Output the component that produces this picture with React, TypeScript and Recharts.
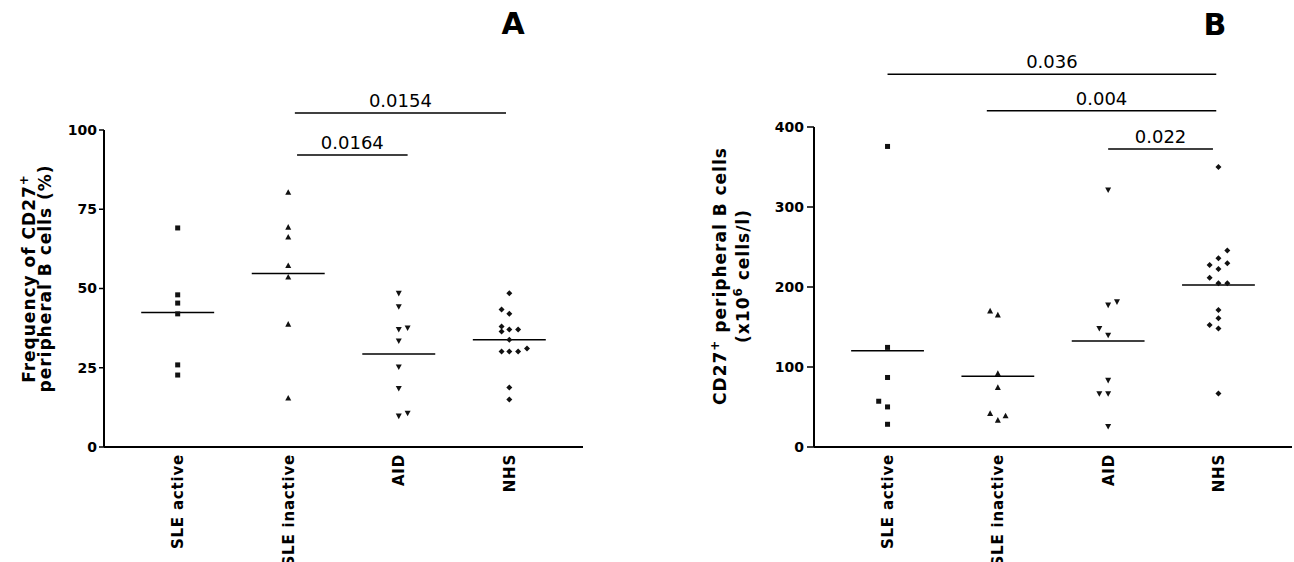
import React from 'react'
import { ScatterChart, Scatter, XAxis, YAxis, ReferenceLine } from 'recharts'

const FONT = '"DejaVu Sans", Verdana, sans-serif'

const groups = ['SLE active', 'SLE inactive', 'AID', 'NHS']

// panel A, frequency of CD27+ B cells (%): [x jitter, value]
const freqSleActive = [[0, 69.1], [0, 48.0], [0, 45.4], [0, 42.0], [0, 25.9], [0, 22.7]]
const freqSleInactive = [[0, 80.3], [0, 69.3], [0, 66.2], [0, 57.2], [0, 53.6], [0, 38.7], [0, 15.4]]
const freqAid = [[0, 48.5], [0, 44.3], [0.08, 37.6], [0, 37.1], [0, 33.5], [0, 25.3], [0, 18.5], [0.08, 10.7], [0, 9.8]]
const freqNhs = [
    [0, 48.5], [-0.07, 43.4], [0, 42.0], [-0.07, 38.0], [-0.07, 36.4], [0, 37.1], [0.08, 37.1],
    [0, 33.8], [-0.07, 30.1], [0, 30.1], [0.08, 30.1], [0.16, 31.1], [0, 18.8], [0, 15.0],
]
const freqMeans = [42.4, 54.7, 29.3, 33.8]
const freqTicks = [0, 25, 50, 75, 100]
const freqComparisons = [
    { from: 2.06, to: 3.97, level: 105.4, p: '0.0154' },
    { from: 2.08, to: 3.08, level: 92.1, p: '0.0164' },
]

// panel B, CD27+ B cells (x10^6 cells/l)
const countSleActive = [[0, 375.7], [0, 124.5], [0, 86.9], [-0.08, 57.2], [0, 50.1], [0, 28.4]]
const countSleInactive = [[-0.07, 170], [0, 165], [0, 91.9], [0, 74.4], [-0.07, 41.8], [0, 33.4], [0.07, 38.8]]
const countAid = [[0, 321.5], [0.08, 181.6], [0, 177.5], [-0.08, 148.3], [0, 139.9], [0, 83.5], [-0.08, 66.8], [0, 66.8], [0, 25.9]]
const countNhs = [
    [0, 349.9], [0.08, 245.5], [0, 235.9], [0.08, 229.6], [-0.08, 227.6], [0, 222.5], [-0.08, 211.7],
    [0, 204.6], [0.08, 204.6], [0, 171.2], [0, 160.8], [-0.08, 152.4], [0, 148.2], [0, 66.8],
]
const countMeans = [120.2, 88.5, 132.4, 202.5]
const countTicks = [0, 100, 200, 300, 400]
const countComparisons = [
    { from: 1.0, to: 3.98, level: 465.9, p: '0.036' },
    { from: 1.9, to: 3.98, level: 420.4, p: '0.004' },
    { from: 3.0, to: 3.95, level: 372.4, p: '0.022' },
]

const toPoints = (group: number[][], idx: number) => group.map(([dx, v]) => ({ x: idx + 1 + dx, y: v }))

const markers = [
    ({ cx, cy }: any) => <rect x={cx - 2.5} y={cy - 2.5} width={5} height={5} fill="#111" />,
    ({ cx, cy }: any) => <polygon points={`${cx},${cy - 3.2} ${cx + 3},${cy + 2.4} ${cx - 3},${cy + 2.4}`} fill="#111" />,
    ({ cx, cy }: any) => <polygon points={`${cx - 3},${cy - 2.4} ${cx + 3},${cy - 2.4} ${cx},${cy + 3.2}`} fill="#111" />,
    ({ cx, cy }: any) => <polygon points={`${cx},${cy - 3} ${cx + 3},${cy} ${cx},${cy + 3} ${cx - 3},${cy}`} fill="#111" />,
]

const GroupTick = ({ x, y, payload }: any) => (
    <text
        transform={`translate(${x},${y}) rotate(-90)`}
        textAnchor="end"
        dy="0.36em"
        fontFamily={FONT}
        fontWeight="bold"
        fontSize={15}
        letterSpacing={0.8}
        fill="#000"
    >
        {groups[Math.round(payload.value) - 1]}
    </text>
)

const labelStyle = { fontFamily: FONT, fontWeight: 'bold' as const, fontSize: 17, letterSpacing: 1, fill: '#000' }

const FreqLabel = ({ viewBox }: any) => {
    const cy = viewBox.y + viewBox.height / 2 - 10
    return (
        <g>
            <text transform={`translate(${viewBox.x - 15},${cy}) rotate(-90)`} textAnchor="middle" dy="0.35em" {...labelStyle}>
                Frequency of CD27<tspan dy={-7} fontSize={12}>+</tspan>
            </text>
            <text transform={`translate(${viewBox.x + 1},${cy}) rotate(-90)`} textAnchor="middle" dy="0.35em" {...labelStyle}>
                peripheral B cells (%)
            </text>
        </g>
    )
}

const CountLabel = ({ viewBox }: any) => {
    const cy = viewBox.y + viewBox.height / 2 - 11
    return (
        <g>
            <text transform={`translate(${viewBox.x - 34},${cy}) rotate(-90)`} textAnchor="middle" dy="0.35em" {...labelStyle}>
                CD27<tspan dy={-7} fontSize={12}>+</tspan><tspan dy={7}> peripheral B cells</tspan>
            </text>
            <text transform={`translate(${viewBox.x - 11},${cy}) rotate(-90)`} textAnchor="middle" dy="0.35em" {...labelStyle}>
                (x10<tspan dy={-7} fontSize={12}>6</tspan><tspan dy={7}> cells/l)</tspan>
            </text>
        </g>
    )
}

interface PanelProps {
    sets: number[][][];
    means: number[];
    ticks: number[];
    comparisons: { from: number; to: number; level: number; p: string }[];
    width: number;
    margin: { top: number; right: number; bottom: number; left: number };
    tickSize: number;
    tickMargin: number;
    yLabel: (props: any) => React.ReactElement;
}

function Panel({ sets, means, ticks, comparisons, width, margin, tickSize, tickMargin, yLabel }: PanelProps) {
    return (
        <ScatterChart width={width} height={562} margin={margin}>
            <XAxis
                type="number"
                dataKey="x"
                domain={[1 / 3, 14 / 3]}
                ticks={[1, 2, 3, 4]}
                tickLine={false}
                tickSize={0}
                tickMargin={7}
                height={110}
                axisLine={{ stroke: '#000', strokeWidth: 2 }}
                tick={<GroupTick />}
                interval={0}
            />
            <YAxis
                type="number"
                dataKey="y"
                domain={[ticks[0], ticks[ticks.length - 1]]}
                ticks={ticks}
                width={60}
                tickSize={tickSize}
                tickMargin={tickMargin}
                axisLine={{ stroke: '#000', strokeWidth: 2 }}
                tickLine={{ stroke: '#000', strokeWidth: 1.5 }}
                tick={{ fontFamily: FONT, fontWeight: 'bold', fontSize: 14, fill: '#000' }}
                label={yLabel}
            />
            {sets.map((set, i) => (
                <Scatter key={groups[i]} data={toPoints(set, i)} shape={markers[i]} isAnimationActive={false} />
            ))}
            {means.map((m, i) => (
                <ReferenceLine
                    key={`mean-${i}`}
                    segment={[{ x: i + 1 - 0.33, y: m }, { x: i + 1 + 0.33, y: m }]}
                    stroke="#000"
                    strokeWidth={1.5}
                    ifOverflow="visible"
                />
            ))}
            {comparisons.map((c) => (
                <ReferenceLine
                    key={c.p}
                    segment={[{ x: c.from, y: c.level }, { x: c.to, y: c.level }]}
                    stroke="#000"
                    strokeWidth={1.5}
                    ifOverflow="visible"
                    label={{ value: c.p, position: 'top', offset: 6, fill: '#000', fontSize: 18, fontFamily: FONT }}
                />
            ))}
        </ScatterChart>
    )
}

export default function App() {
    return (
        <div style={{ position: 'absolute', left: 0, top: 0, width: 1294, height: 562, background: '#fff' }}>
            <div style={{ position: 'absolute', left: 0, top: 0 }}>
                <Panel
                    sets={[freqSleActive, freqSleInactive, freqAid, freqNhs]}
                    means={freqMeans}
                    ticks={freqTicks}
                    comparisons={freqComparisons}
                    width={650}
                    margin={{ top: 130, right: 67, bottom: 5, left: 44 }}
                    tickSize={5}
                    tickMargin={2}
                    yLabel={FreqLabel}
                />
            </div>
            <div style={{ position: 'absolute', left: 650, top: 0 }}>
                <Panel
                    sets={[countSleActive, countSleInactive, countAid, countNhs]}
                    means={countMeans}
                    ticks={countTicks}
                    comparisons={countComparisons}
                    width={644}
                    margin={{ top: 127, right: 2, bottom: 5, left: 104 }}
                    tickSize={7}
                    tickMargin={3}
                    yLabel={CountLabel}
                />
            </div>
            <svg width={1294} height={562} style={{ position: 'absolute', left: 0, top: 0, pointerEvents: 'none' }}>
                <text x={513} y={34} textAnchor="middle" fontFamily={FONT} fontWeight="bold" fontSize={30} fill="#000">A</text>
                <text x={1215} y={35} textAnchor="middle" fontFamily={FONT} fontWeight="bold" fontSize={30} fill="#000">B</text>
            </svg>
        </div>
    )
}
